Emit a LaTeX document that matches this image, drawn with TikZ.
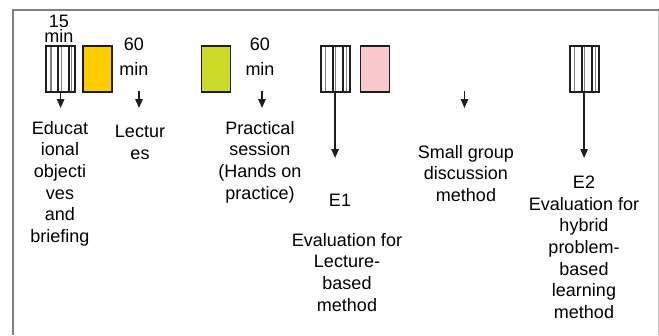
\documentclass[tikz,border=0pt]{standalone}
\usepackage{fontspec}
\setmainfont{Liberation Sans}
\usetikzlibrary{arrows.meta,calc}
\definecolor{boxline}{HTML}{1E1E1E}
\definecolor{goldfill}{HTML}{FFCC00}
\definecolor{limefill}{HTML}{CCDB2A}
\definecolor{pinkfill}{HTML}{F8C8CC}
\definecolor{framegray}{HTML}{808080}
\definecolor{framelight}{HTML}{C8C8C8}
\tikzset{
  colbox/.style={draw=boxline, line width=1.8pt, minimum width=29pt, minimum height=46pt, inner sep=0pt, anchor=north west},
  stripebox/.style={colbox, line width=2.2pt, fill=white, path picture={
      \foreach \f/\w/\c in {0.42/2.4pt/boxline, 0.78/2.4pt/boxline, 0.17/1.1pt/gray, 0.52/1.1pt/gray, 0.88/1.1pt/gray}{
        \draw[line width=\w, draw=\c]
          ($(path picture bounding box.south west)!\f!(path picture bounding box.south east)$) --
          ($(path picture bounding box.north west)!\f!(path picture bounding box.north east)$);
      }}},
  lbl/.style={align=center, inner sep=0pt, anchor=north, font=\fontsize{18}{21.6}\selectfont},
  arr/.style={draw=boxline, line width=1.4pt, -{Triangle[length=9pt,width=7.5pt]}},
}
\begin{document}
\begin{tikzpicture}[x=1pt,y=-1pt]
\useasboundingbox (0,0) rectangle (659,335);
% frame
\draw[framelight, line width=0.8pt] (658,10) -- (658,335);
\draw[framegray, line width=2.2pt] (13,335) -- (13,10) -- (659,10);

% boxes
\node[stripebox] (s1) at (45,45) {};
\node[colbox, fill=goldfill] (gold) at (82,45) {};
\node[colbox, fill=limefill] (lime) at (200.5,45) {};
\node[stripebox] (s2) at (319.5,45) {};
\node[colbox, fill=pinkfill] (pink) at (359.5,45) {};
\node[stripebox] (s3) at (568.5,45) {};

% duration labels
\node[lbl, font=\fontsize{18}{15.7}\selectfont] (t15) at (59,14.5) {15\\min};
\node[lbl, font=\fontsize{18}{24.5}\selectfont] (t60a) at (134,38) {60\\min};
\node[lbl, font=\fontsize{18}{24.5}\selectfont] (t60b) at (260,38) {60\\min};

% free arrow starts/ends
\coordinate (la) at (139,91);
\coordinate (lb) at (139,108);
\coordinate (pa) at (262,91);
\coordinate (pb) at (262,108);
\coordinate (ga) at (464.5,91);
\coordinate (gb) at (464.5,108);
\coordinate (s1e) at (0,108);
\coordinate (s2e) at (0,158);
\coordinate (s3e) at (0,158);

\draw[arr] (s1.south) -- (s1.south |- s1e);
\draw[arr] (la) -- (lb);
\draw[arr] (pa) -- (pb);
\draw[arr] (s2.south) -- (s2.south |- s2e);
\draw[arr] (ga) -- (gb);
\draw[arr] (s3.south) -- (s3.south |- s3e);

% texts
\node[lbl] (edu) at (60,121) {Educat\\ional\\objecti\\ves\\and\\briefing};
\node[lbl] (lec) at (140,125) {Lectur\\es};
\node[lbl] (prac) at (260,121) {Practical\\session\\(Hands on\\practice)};
\node[lbl] (e1) at (340,194) {E1};
\node[lbl] (ev1) at (347,233) {Evaluation for\\Lecture-\\based\\method};
\node[lbl] (sg) at (466,145) {Small group\\discussion\\method};
\node[lbl] (e2) at (584,176) {E2\\Evaluation for\\hybrid\\problem-\\based\\learning\\method};
\end{tikzpicture}
\end{document}
